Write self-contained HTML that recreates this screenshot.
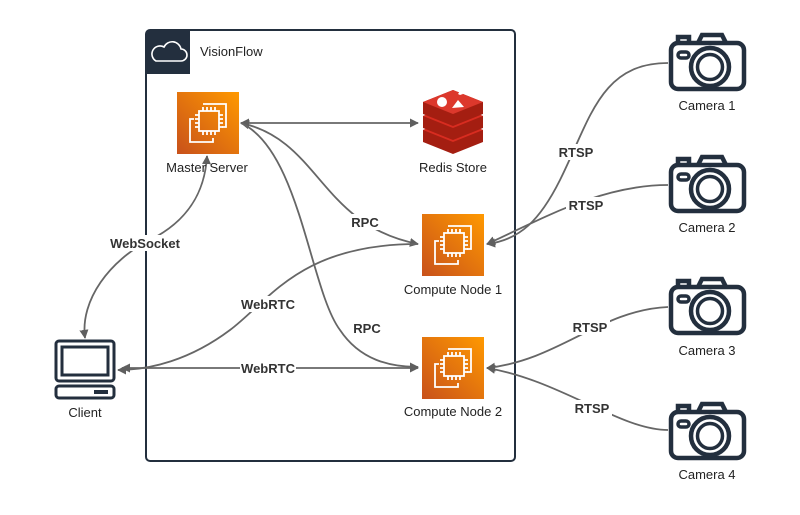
<!DOCTYPE html>
<html><head><meta charset="utf-8"><style>
html,body{margin:0;padding:0;background:#fff;width:800px;height:515px;overflow:hidden}
text{font-family:"Liberation Sans",sans-serif;font-size:13px;fill:#222}
.b{font-weight:bold;fill:#333}
</style></head><body>
<svg width="800" height="515" viewBox="0 0 800 515">
<defs>
<linearGradient id="og" x1="0" y1="1" x2="1" y2="0"><stop offset="0" stop-color="#c8511b"/><stop offset="1" stop-color="#ff9900"/></linearGradient>
<marker id="a" viewBox="0 0 10 10" refX="9" refY="5" markerWidth="5" markerHeight="5" orient="auto-start-reverse"><path d="M0,0L10,5L0,10z" fill="#5f5f5f"/></marker>
<g id="ec2">
<rect width="62" height="62" fill="url(#og)"/>
<g fill="none" stroke="#fff" stroke-width="1.8">
<path d="M26,12h23v23h-4"/><path d="M17,27h-4v23h23v-4"/>
<rect x="22" y="19" width="20" height="20"/>
<path d="M26,15v4M30,15v4M34,15v4M38,15v4M26,39v4M30,39v4M34,39v4M38,39v4M18,23h4M18,27h4M18,31h4M18,35h4M42,23h4M42,27h4M42,31h4M42,35h4"/>
</g></g>
<g id="cam" fill="none" stroke="#232f3e" stroke-width="4.5">
<rect x="3" y="13" width="73" height="46" rx="7"/>
<path d="M10,13v-6h11v6M30,13l4,-8h20l4,8"/>
<circle cx="42" cy="37" r="19"/><circle cx="42" cy="37" r="12.5" stroke-width="3.5"/>
<rect x="10" y="22" width="11" height="6" rx="3" stroke-width="3.5"/>
</g>
</defs>

<rect x="146" y="30" width="369" height="431" rx="4" fill="none" stroke="#232f3e" stroke-width="2"/>
<path d="M150,30h40v44h-44v-40a4,4 0 0 1 4,-4z" fill="#232f3e"/>
<path d="M156,61h25a6,6 0 0 0 0,-12a9,9 0 0 0 -17,-2a7,7 0 0 0 -8,14z" fill="none" stroke="#fff" stroke-width="1.6"/>
<text x="200" y="56">VisionFlow</text>

<g fill="none" stroke="#666" stroke-width="1.8">
<path d="M241,123H418" marker-start="url(#a)" marker-end="url(#a)"/>
<path d="M241,123C320,140 320,225 418,244" marker-start="url(#a)" marker-end="url(#a)"/>
<path d="M241,123C300,150 310,290 340,330C360,360 390,367 418,367" marker-end="url(#a)"/>
<path d="M85,338C80,300 110,260 150,240C190,220 205,190 207,156" marker-start="url(#a)" marker-end="url(#a)"/>
<path d="M418,244C300,244 270,300 230,330C190,360 150,370 118,370" marker-end="url(#a)"/>
<path d="M122,368H418" marker-start="url(#a)" marker-end="url(#a)"/>
<path d="M668,63C600,63 590,120 560,180C540,220 520,240 487,244" marker-end="url(#a)"/>
<path d="M668,185C600,185 540,220 487,244" marker-end="url(#a)"/>
<path d="M668,307C600,310 560,360 487,368" marker-end="url(#a)"/>
<path d="M668,430C620,430 560,380 487,368" marker-end="url(#a)"/>
</g>
<g class="b" text-anchor="middle">
<rect x="108" y="235" width="74" height="16" fill="#fff"/><text class="b" x="145" y="248">WebSocket</text>
<rect x="349" y="214" width="32" height="16" fill="#fff"/><text class="b" x="365" y="227">RPC</text>
<rect x="351" y="320" width="32" height="16" fill="#fff"/><text class="b" x="367" y="333">RPC</text>
<rect x="240" y="296" width="56" height="16" fill="#fff"/><text class="b" x="268" y="309">WebRTC</text>
<rect x="240" y="360" width="56" height="16" fill="#fff"/><text class="b" x="268" y="373">WebRTC</text>
<rect x="556" y="144" width="40" height="16" fill="#fff"/><text class="b" x="576" y="157">RTSP</text>
<rect x="566" y="197" width="40" height="16" fill="#fff"/><text class="b" x="586" y="210">RTSP</text>
<rect x="570" y="319" width="40" height="16" fill="#fff"/><text class="b" x="590" y="332">RTSP</text>
<rect x="572" y="400" width="40" height="16" fill="#fff"/><text class="b" x="592" y="413">RTSP</text>
</g>

<use href="#ec2" x="177" y="92"/>
<text x="207" y="172" text-anchor="middle">Master Server</text>
<g transform="translate(422,96)">
<path d="M1,34L31,22L61,34V46L31,58L1,46z" fill="#a41e11"/>
<path d="M1,34L31,46L61,34L31,22z" fill="#d82c20"/>
<path d="M1,20L31,8L61,20V32L31,44L1,32z" fill="#a41e11"/>
<path d="M1,20L31,32L61,20L31,8z" fill="#d82c20"/>
<path d="M1,6L31,-6L61,6V18L31,30L1,18z" fill="#a41e11"/>
<path d="M1,6L31,18L61,6L31,-6z" fill="#dc382c"/>
<circle cx="20" cy="6" r="5" fill="#fff"/><path d="M30,12l12,-1l-6,-7z" fill="#fff"/><path d="M36,-2l2,-3l3,3l-3,1z" fill="#fff"/>
</g>
<text x="453" y="172" text-anchor="middle">Redis Store</text>
<use href="#ec2" x="422" y="214"/>
<text x="453" y="294" text-anchor="middle">Compute Node 1</text>
<use href="#ec2" x="422" y="337"/>
<text x="453" y="416" text-anchor="middle">Compute Node 2</text>

<g fill="none" stroke="#232f3e" stroke-width="3">
<rect x="56" y="341" width="58" height="40" rx="3"/>
<rect x="62" y="347" width="46" height="28"/>
<rect x="56" y="386" width="58" height="12" rx="3"/>
</g>
<rect x="94" y="390" width="14" height="4" fill="#232f3e"/>
<text x="85" y="417" text-anchor="middle">Client</text>

<use href="#cam" x="668" y="30"/><text x="707" y="110" text-anchor="middle">Camera 1</text>
<use href="#cam" x="668" y="152"/><text x="707" y="232" text-anchor="middle">Camera 2</text>
<use href="#cam" x="668" y="274"/><text x="707" y="355" text-anchor="middle">Camera 3</text>
<use href="#cam" x="668" y="399"/><text x="707" y="479" text-anchor="middle">Camera 4</text>
</svg>
</body></html>
